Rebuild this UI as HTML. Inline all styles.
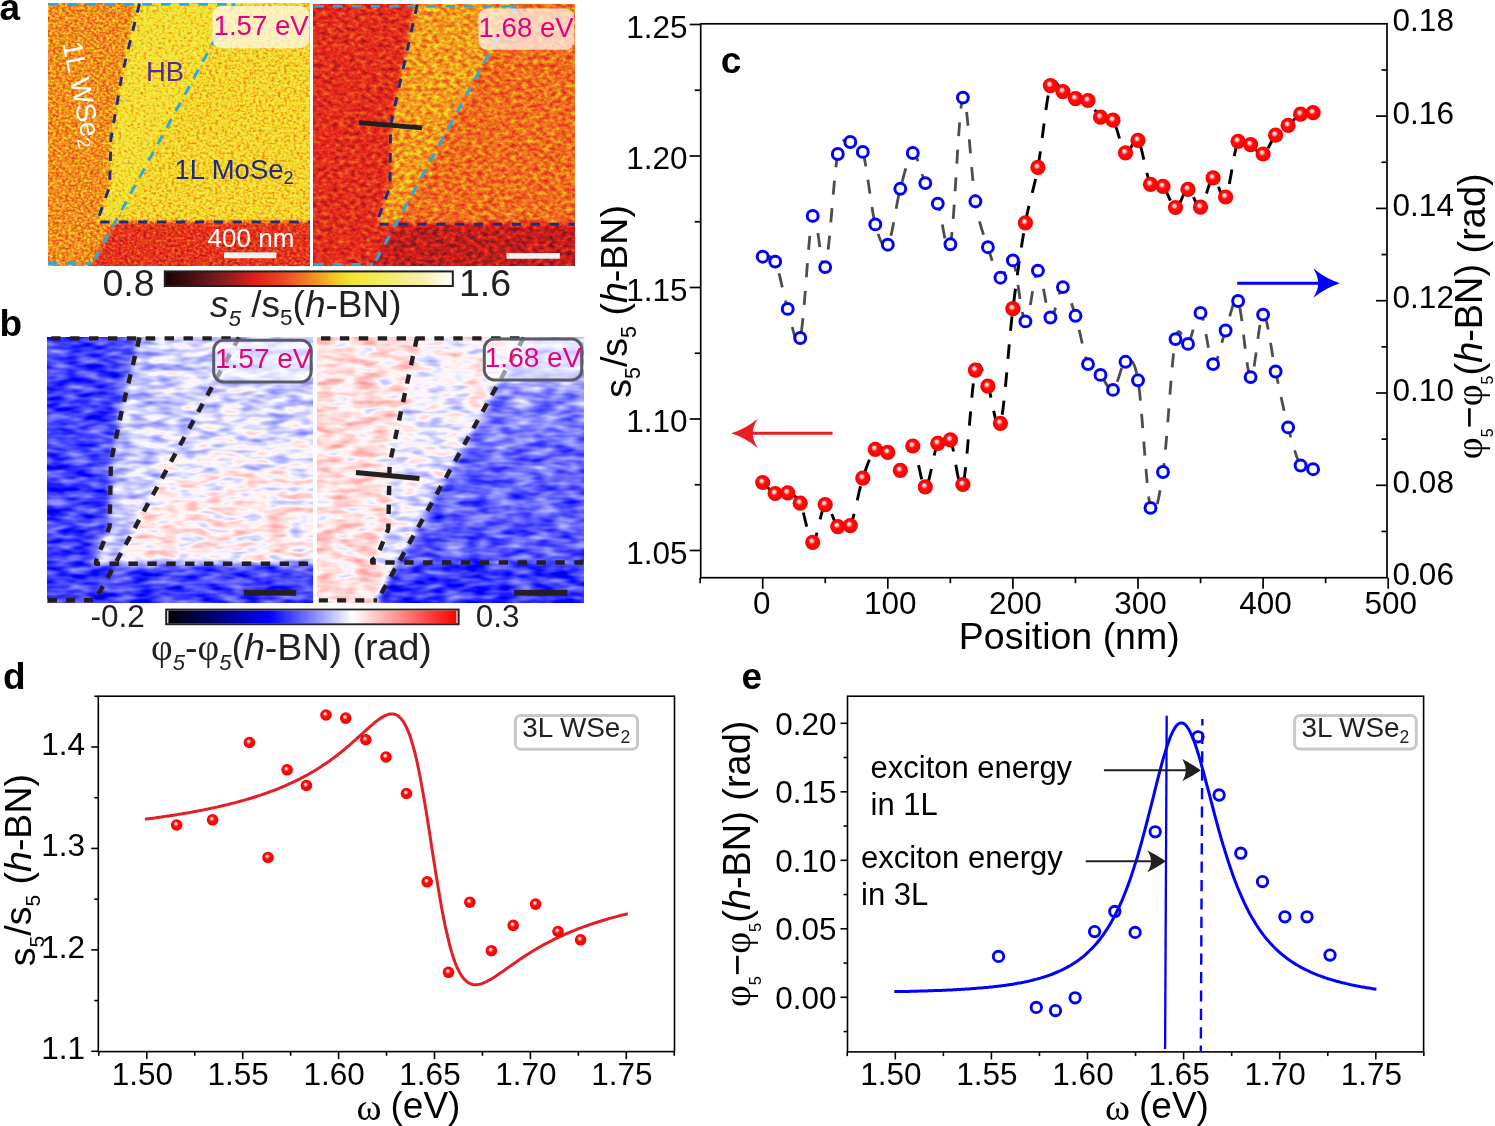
<!DOCTYPE html><html><head><meta charset="utf-8"><style>html,body{margin:0;padding:0;background:#fff;overflow:hidden}svg{display:block;will-change:transform}text{font-family:"Liberation Sans",sans-serif}</style></head><body>
<svg width="1495" height="1126" viewBox="0 0 1495 1126">
<defs>
<radialGradient id="sph" cx="0.5" cy="0.5" r="0.5" fx="0.40" fy="0.36">
 <stop offset="0" stop-color="#ffffff"/>
 <stop offset="0.1" stop-color="#fff4f4"/>
 <stop offset="0.26" stop-color="#ff9090"/>
 <stop offset="0.42" stop-color="#ff1010"/>
 <stop offset="0.85" stop-color="#ff0000"/>
 <stop offset="1" stop-color="#f20000"/>
</radialGradient>
<linearGradient id="cbhot" x1="0" x2="1" y1="0" y2="0"><stop offset="0" stop-color="#180406"/><stop offset="0.19" stop-color="#7a1c20"/><stop offset="0.31" stop-color="#e21c1c"/><stop offset="0.4" stop-color="#ea4420"/><stop offset="0.47" stop-color="#ef7020"/><stop offset="0.54" stop-color="#f2a020"/><stop offset="0.59" stop-color="#f4c820"/><stop offset="0.65" stop-color="#f2e632"/><stop offset="0.76" stop-color="#f2ec60"/><stop offset="0.9" stop-color="#f6f0b0"/><stop offset="1.0" stop-color="#ffffff"/></linearGradient>
<linearGradient id="cbbwr" x1="0" x2="1" y1="0" y2="0"><stop offset="0" stop-color="#000000"/><stop offset="0.35" stop-color="#0000ff"/><stop offset="0.64" stop-color="#ffffff"/><stop offset="1.0" stop-color="#ff0000"/></linearGradient>
<filter id="blur3" x="-5%" y="-5%" width="110%" height="110%"><feGaussianBlur stdDeviation="3"/></filter>
<filter id="blur2" x="-5%" y="-5%" width="110%" height="110%"><feGaussianBlur stdDeviation="2"/></filter>
</defs>
<filter id="fAL" x="48" y="3.3" width="261.8" height="262.3" filterUnits="userSpaceOnUse" color-interpolation-filters="sRGB"><feGaussianBlur in="SourceGraphic" stdDeviation="2.0" result="base"/><feTurbulence type="fractalNoise" baseFrequency="0.32 0.4" numOctaves="2" seed="3" result="n"/><feColorMatrix in="n" type="matrix" values="1 0 0 0 0 1 0 0 0 0 1 0 0 0 0 0 0 0 0 1" result="ng"/><feComposite in="base" in2="ng" operator="arithmetic" k1="0" k2="1" k3="0.42" k4="-0.2100" result="sum"/><feComponentTransfer in="sum"><feFuncR type="table" tableValues="0.094 0.145 0.195 0.246 0.296 0.347 0.398 0.448 0.512 0.597 0.682 0.767 0.852 0.892 0.900 0.909 0.918 0.925 0.932 0.938 0.942 0.946 0.951 0.955 0.956 0.952 0.949 0.949 0.949 0.949 0.949 0.951 0.954 0.956 0.959 0.962 0.965 0.974 0.982 0.991 1.000"/><feFuncG type="table" tableValues="0.016 0.028 0.040 0.053 0.065 0.078 0.090 0.102 0.110 0.110 0.110 0.110 0.110 0.136 0.180 0.223 0.267 0.328 0.390 0.453 0.520 0.587 0.659 0.737 0.804 0.853 0.902 0.907 0.913 0.918 0.923 0.927 0.930 0.933 0.936 0.938 0.941 0.956 0.971 0.985 1.000"/><feFuncB type="table" tableValues="0.024 0.037 0.050 0.064 0.077 0.091 0.104 0.117 0.124 0.121 0.118 0.114 0.111 0.112 0.117 0.121 0.125 0.125 0.125 0.125 0.125 0.125 0.125 0.125 0.137 0.167 0.196 0.237 0.278 0.319 0.360 0.410 0.466 0.522 0.578 0.634 0.690 0.768 0.845 0.923 1.000"/><feFuncA type="identity"/></feComponentTransfer></filter>
<g filter="url(#fAL)">
<rect x="36" y="-8.7" width="285.8" height="286.3" fill="rgb(131,131,131)"/>
<polygon points="139.5,-10.0 320.0,-10.0 320.0,222.0 97.2,222.0 97.2,221.5 109.6,186.5 110.9,139.3 122.0,74.6 139.5,-10.0" fill="rgb(158,158,158)"/>
<polygon points="139.5,-10.0 241.9,-10.0 115.2,222.0 97.2,222.0 97.2,221.5 109.6,186.5 110.9,139.3 122.0,74.6" fill="rgb(164,164,164)"/>
<polygon points="115.2,222.0 320.0,222.0 320.0,280.0 83.6,280.0" fill="rgb(93,93,93)"/>
</g>
<filter id="fAR" x="313.9" y="4.8" width="261.1" height="261.1" filterUnits="userSpaceOnUse" color-interpolation-filters="sRGB"><feGaussianBlur in="SourceGraphic" stdDeviation="2.0" result="base"/><feTurbulence type="fractalNoise" baseFrequency="0.18 0.25" numOctaves="2" seed="7" result="n"/><feColorMatrix in="n" type="matrix" values="1 0 0 0 0 1 0 0 0 0 1 0 0 0 0 0 0 0 0 1" result="ng"/><feComposite in="base" in2="ng" operator="arithmetic" k1="0" k2="1" k3="0.4" k4="-0.2000" result="sum"/><feComponentTransfer in="sum"><feFuncR type="table" tableValues="0.094 0.145 0.195 0.246 0.296 0.347 0.398 0.448 0.512 0.597 0.682 0.767 0.852 0.892 0.900 0.909 0.918 0.925 0.932 0.938 0.942 0.946 0.951 0.955 0.956 0.952 0.949 0.949 0.949 0.949 0.949 0.951 0.954 0.956 0.959 0.962 0.965 0.974 0.982 0.991 1.000"/><feFuncG type="table" tableValues="0.016 0.028 0.040 0.053 0.065 0.078 0.090 0.102 0.110 0.110 0.110 0.110 0.110 0.136 0.180 0.223 0.267 0.328 0.390 0.453 0.520 0.587 0.659 0.737 0.804 0.853 0.902 0.907 0.913 0.918 0.923 0.927 0.930 0.933 0.936 0.938 0.941 0.956 0.971 0.985 1.000"/><feFuncB type="table" tableValues="0.024 0.037 0.050 0.064 0.077 0.091 0.104 0.117 0.124 0.121 0.118 0.114 0.111 0.112 0.117 0.121 0.125 0.125 0.125 0.125 0.125 0.125 0.125 0.125 0.137 0.167 0.196 0.237 0.278 0.319 0.360 0.410 0.466 0.522 0.578 0.634 0.690 0.768 0.845 0.923 1.000"/><feFuncA type="identity"/></feComponentTransfer></filter>
<g filter="url(#fAR)">
<rect x="301.9" y="-7.2" width="285.1" height="285.1" fill="rgb(89,89,89)"/>
<polygon points="417.2,-10.0 523.8,-10.0 395.7,224.3 377.3,224.3 377.3,221.2 390.0,186.5 390.6,125.2" fill="rgb(136,136,136)"/>
<polygon points="523.8,-10.0 590.0,-10.0 590.0,224.3 395.7,224.3" fill="rgb(119,119,119)"/>
<polygon points="395.7,224.3 590.0,224.3 590.0,280.0 365.3,280.0" fill="rgb(71,71,71)"/>
</g>
<linearGradient id="gBLm" x1="0" y1="0" x2="0" y2="1"><stop offset="0" stop-color="rgb(147,147,147)"/><stop offset="0.3" stop-color="rgb(150,150,150)"/><stop offset="0.5" stop-color="rgb(157,157,157)"/><stop offset="0.68" stop-color="rgb(167,167,167)"/><stop offset="0.85" stop-color="rgb(171,171,171)"/><stop offset="1" stop-color="rgb(166,166,166)"/></linearGradient>
<filter id="fBL" x="47.6" y="337.0" width="265.2" height="265.8" filterUnits="userSpaceOnUse" color-interpolation-filters="sRGB"><feGaussianBlur in="SourceGraphic" stdDeviation="3.0" result="base"/><feTurbulence type="fractalNoise" baseFrequency="0.045 0.14" numOctaves="2" seed="11" result="n"/><feColorMatrix in="n" type="matrix" values="1 0 0 0 0 1 0 0 0 0 1 0 0 0 0 0 0 0 0 1" result="ng"/><feComposite in="base" in2="ng" operator="arithmetic" k1="0" k2="1" k3="0.3" k4="-0.1500" result="sum"/><feComponentTransfer in="sum"><feFuncR type="table" tableValues="0.000 0.000 0.000 0.000 0.000 0.000 0.000 0.000 0.000 0.000 0.000 0.000 0.000 0.000 0.000 0.086 0.172 0.259 0.345 0.431 0.517 0.603 0.690 0.776 0.862 0.948 1.000 1.000 1.000 1.000 1.000 1.000 1.000 1.000 1.000 1.000 1.000 1.000 1.000 1.000 1.000"/><feFuncG type="table" tableValues="0.000 0.000 0.000 0.000 0.000 0.000 0.000 0.000 0.000 0.000 0.000 0.000 0.000 0.000 0.000 0.086 0.172 0.259 0.345 0.431 0.517 0.603 0.690 0.776 0.862 0.948 0.972 0.903 0.833 0.764 0.694 0.625 0.556 0.486 0.417 0.347 0.278 0.208 0.139 0.069 0.000"/><feFuncB type="table" tableValues="0.000 0.071 0.143 0.214 0.286 0.357 0.429 0.500 0.571 0.643 0.714 0.786 0.857 0.929 1.000 1.000 1.000 1.000 1.000 1.000 1.000 1.000 1.000 1.000 1.000 1.000 0.972 0.903 0.833 0.764 0.694 0.625 0.556 0.486 0.417 0.347 0.278 0.208 0.139 0.069 0.000"/><feFuncA type="identity"/></feComponentTransfer></filter>
<g filter="url(#fBL)">
<rect x="35.6" y="325.0" width="289.2" height="289.8" fill="rgb(108,108,108)"/>
<polygon points="139.5,327.0 244.7,327.0 115.1,563.8 96.0,563.8 96.0,561.3 109.6,526.5 110.9,461.8 122.0,409.6" fill="rgb(150,150,150)"/>
<polygon points="244.7,327.0 330.0,327.0 330.0,563.8 115.1,563.8" fill="url(#gBLm)"/>
</g>
<linearGradient id="gBRm" x1="0" y1="0" x2="0" y2="1"><stop offset="0" stop-color="rgb(153,153,153)"/><stop offset="0.25" stop-color="rgb(135,135,135)"/><stop offset="0.55" stop-color="rgb(120,120,120)"/><stop offset="1" stop-color="rgb(115,115,115)"/></linearGradient>
<linearGradient id="gBRh" x1="0" y1="0" x2="0" y2="1"><stop offset="0" stop-color="rgb(167,167,167)"/><stop offset="0.5" stop-color="rgb(158,158,158)"/><stop offset="1" stop-color="rgb(153,153,153)"/></linearGradient>
<filter id="fBR" x="317.4" y="337.0" width="265.7" height="265.8" filterUnits="userSpaceOnUse" color-interpolation-filters="sRGB"><feGaussianBlur in="SourceGraphic" stdDeviation="3.0" result="base"/><feTurbulence type="fractalNoise" baseFrequency="0.045 0.14" numOctaves="2" seed="13" result="n"/><feColorMatrix in="n" type="matrix" values="1 0 0 0 0 1 0 0 0 0 1 0 0 0 0 0 0 0 0 1" result="ng"/><feComposite in="base" in2="ng" operator="arithmetic" k1="0" k2="1" k3="0.3" k4="-0.1500" result="sum"/><feComponentTransfer in="sum"><feFuncR type="table" tableValues="0.000 0.000 0.000 0.000 0.000 0.000 0.000 0.000 0.000 0.000 0.000 0.000 0.000 0.000 0.000 0.086 0.172 0.259 0.345 0.431 0.517 0.603 0.690 0.776 0.862 0.948 1.000 1.000 1.000 1.000 1.000 1.000 1.000 1.000 1.000 1.000 1.000 1.000 1.000 1.000 1.000"/><feFuncG type="table" tableValues="0.000 0.000 0.000 0.000 0.000 0.000 0.000 0.000 0.000 0.000 0.000 0.000 0.000 0.000 0.000 0.086 0.172 0.259 0.345 0.431 0.517 0.603 0.690 0.776 0.862 0.948 0.972 0.903 0.833 0.764 0.694 0.625 0.556 0.486 0.417 0.347 0.278 0.208 0.139 0.069 0.000"/><feFuncB type="table" tableValues="0.000 0.071 0.143 0.214 0.286 0.357 0.429 0.500 0.571 0.643 0.714 0.786 0.857 0.929 1.000 1.000 1.000 1.000 1.000 1.000 1.000 1.000 1.000 1.000 1.000 1.000 0.972 0.903 0.833 0.764 0.694 0.625 0.556 0.486 0.417 0.347 0.278 0.208 0.139 0.069 0.000"/><feFuncA type="identity"/></feComponentTransfer></filter>
<g filter="url(#fBR)">
<rect x="305.4" y="325.0" width="289.7" height="289.8" fill="rgb(175,175,175)"/>
<polygon points="417.0,327.0 529.7,327.0 398.6,562.5 372.2,562.5 372.2,560.0 377.1,556.3 388.3,529.0 389.6,464.3" fill="url(#gBRh)"/>
<polygon points="529.7,327.0 600.0,327.0 600.0,562.5 398.6,562.5" fill="url(#gBRm)"/>
<polygon points="398.6,562.5 600.0,562.5 600.0,615.0 369.4,615.0" fill="rgb(105,105,105)"/>
</g>
<path d="M48.7,4.4 L234.5,4.4" fill="none" stroke="#27a9e1" stroke-width="2.6" stroke-dasharray="9.6 9.1" stroke-linecap="butt" stroke-linejoin="round"/>
<path d="M234.5,3.5 L91.8,264.9" fill="none" stroke="#27a9e1" stroke-width="2.9" stroke-dasharray="9.8 9.0" stroke-linecap="butt" stroke-linejoin="round"/>
<path d="M48.0,263.4 L91.8,263.4" fill="none" stroke="#27a9e1" stroke-width="2.6" stroke-dasharray="9.6 9.1" stroke-linecap="butt" stroke-linejoin="round"/>
<path d="M139.5,3.5 L122.0,74.6 L110.9,139.3 L109.6,186.5 L97.2,221.5 L97.2,222.0 L309.8,222.0" fill="none" stroke="#1e2b80" stroke-width="2.9" stroke-dasharray="9.3 9.6" stroke-linecap="butt" stroke-linejoin="round"/>
<path d="M314.5,6.2 L515.7,6.2" fill="none" stroke="#27a9e1" stroke-width="2.6" stroke-dasharray="9.6 9.1" stroke-linecap="butt" stroke-linejoin="round"/>
<path d="M515.7,4.8 L373.0,265.9" fill="none" stroke="#27a9e1" stroke-width="2.9" stroke-dasharray="9.8 9.0" stroke-linecap="butt" stroke-linejoin="round"/>
<path d="M313.9,264.4 L373.0,264.4" fill="none" stroke="#27a9e1" stroke-width="2.6" stroke-dasharray="9.6 9.1" stroke-linecap="butt" stroke-linejoin="round"/>
<path d="M417.2,4.8 L390.6,125.2 L390.0,186.5 L377.3,221.2 L377.3,224.3 L575.0,224.3" fill="none" stroke="#1e2b80" stroke-width="2.9" stroke-dasharray="9.3 9.6" stroke-linecap="butt" stroke-linejoin="round"/>
<line x1="359.2" y1="122.6" x2="422" y2="127.9" stroke="#231f20" stroke-width="4.8"/>
<path d="M51.2,338.4 L239.0,338.4" fill="none" stroke="#231f20" stroke-width="4.4" stroke-dasharray="9.4 9.5" stroke-linecap="butt" stroke-linejoin="round"/>
<path d="M239.0,337.5 L94.7,601.1" fill="none" stroke="#231f20" stroke-width="4.4" stroke-dasharray="9.4 9.5" stroke-linecap="butt" stroke-linejoin="round"/>
<path d="M48.0,600.3 L95.5,600.3" fill="none" stroke="#231f20" stroke-width="4.4" stroke-dasharray="9 9" stroke-linecap="butt" stroke-linejoin="round"/>
<path d="M139.5,337.5 L122.0,409.6 L110.9,461.8 L109.6,526.5 L96.0,561.3 L96.0,563.8 L312.8,563.8" fill="none" stroke="#231f20" stroke-width="4.4" stroke-dasharray="9.4 9.5" stroke-linecap="butt" stroke-linejoin="round"/>
<path d="M321.0,338.4 L523.9,338.4" fill="none" stroke="#231f20" stroke-width="4.4" stroke-dasharray="9.4 9.5" stroke-linecap="butt" stroke-linejoin="round"/>
<path d="M523.9,337.5 L377.1,601.1" fill="none" stroke="#231f20" stroke-width="4.4" stroke-dasharray="9.4 9.5" stroke-linecap="butt" stroke-linejoin="round"/>
<path d="M318.9,600.4 L377.1,600.4" fill="none" stroke="#231f20" stroke-width="4.4" stroke-dasharray="9 9.2" stroke-linecap="butt" stroke-linejoin="round"/>
<path d="M417.0,337.5 L389.6,464.3 L388.3,529.0 L377.1,556.3 L372.2,560.0 L372.2,562.5 L583.1,562.5" fill="none" stroke="#231f20" stroke-width="4.4" stroke-dasharray="9.4 9.5" stroke-linecap="butt" stroke-linejoin="round"/>
<line x1="356" y1="472.5" x2="419.4" y2="478.5" stroke="#231f20" stroke-width="5"/>
<rect x="212.4" y="6.0" width="96.70000000000002" height="42.2" rx="9" fill="rgba(255,248,228,0.78)"/>
<text x="213.6" y="34.7" font-size="27.6" fill="#e4007f">1.57 eV</text>
<rect x="478.4" y="8.4" width="95.89999999999998" height="41.4" rx="9" fill="rgba(255,238,228,0.78)"/>
<text x="478.6" y="36.9" font-size="27.6" fill="#e4007f">1.68 eV</text>
<rect x="213.7" y="340.2" width="97.40000000000003" height="41.80000000000001" rx="10" fill="rgba(255,255,255,0.55)" stroke="#5a5a68" stroke-width="3"/>
<text x="215.0" y="368.3" font-size="28" fill="#e4007f">1.57 eV</text>
<rect x="484.3" y="339.0" width="97.40000000000003" height="40.89999999999998" rx="10" fill="rgba(255,255,255,0.55)" stroke="#5a5a68" stroke-width="3"/>
<text x="484.8" y="366.9" font-size="28" fill="#e4007f">1.68 eV</text>
<text x="146.0" y="80.8" font-size="27.5" fill="#5a2d8c">HB</text>
<text x="174.5" y="179" font-size="27.5" fill="#1e2b80">1L MoSe<tspan font-size="18" dy="5">2</tspan></text>
<text x="0" y="0" font-size="27.5" fill="#ffffff" transform="translate(62.5,43.5) rotate(78.5)">1L WSe<tspan font-size="18" dy="5">2</tspan></text>
<text x="207.6" y="247.3" font-size="26" fill="#ffffff">400 nm</text>
<rect x="224" y="252.4" width="52.3" height="5.8" fill="#f2f2f2"/>
<rect x="506.5" y="253.1" width="53.3" height="5.6" fill="#f2f2f2"/>
<rect x="243.9" y="589.9" width="52.3" height="5.8" fill="#231f20"/>
<rect x="513.9" y="589.9" width="53.5" height="5.8" fill="#231f20"/>
<rect x="164.8" y="271.4" width="288" height="14.6" fill="url(#cbhot)" stroke="#231f20" stroke-width="2"/>
<rect x="166.2" y="609.6" width="292.4" height="14.6" fill="#fff" stroke="#231f20" stroke-width="2"/>
<rect x="168.4" y="610.6" width="288.0" height="12.6" fill="url(#cbbwr)"/>
<text x="102.5" y="296.4" font-size="37.5" fill="#231f20">0.8</text>
<text x="459.0" y="296.4" font-size="37.5" fill="#231f20">1.6</text>
<text x="210.0" y="317" font-size="37" fill="#231f20"><tspan font-style="italic">s</tspan><tspan font-size="22.5" dy="9" font-style="italic">5</tspan><tspan dy="-9"> /s</tspan><tspan font-size="22.5" dy="7.5">5</tspan><tspan dy="-7.5">(</tspan><tspan font-style="italic">h</tspan>-BN)</text>
<text x="90.5" y="626.6" font-size="31.5" fill="#231f20">-0.2</text>
<text x="475.8" y="626.6" font-size="31.5" fill="#231f20">0.3</text>
<text x="151" y="660" font-size="37.6" fill="#231f20"><tspan style="font-family:'Liberation Serif',serif">φ</tspan><tspan font-size="22" dy="10" font-style="italic">5</tspan><tspan dy="-10">-</tspan><tspan style="font-family:'Liberation Serif',serif">φ</tspan><tspan font-size="22" dy="10" font-style="italic">5</tspan><tspan dy="-10">(</tspan><tspan font-style="italic">h</tspan>-BN) (rad)</text>
<text x="-0.5" y="19.6" font-size="37" fill="#000" font-weight="bold">a</text>
<text x="-0.5" y="336.0" font-size="37" fill="#000" font-weight="bold">b</text>
<text x="720.8" y="73.2" font-size="37" fill="#000" font-weight="bold">c</text>
<text x="3.0" y="688.6" font-size="37" fill="#000" font-weight="bold">d</text>
<text x="741.5" y="689.2" font-size="37" fill="#000" font-weight="bold">e</text>
<rect x="700.7" y="23.8" width="686.3" height="553.9" fill="none" stroke="#000" stroke-width="1.7"/>
<line x1="689.70" y1="550.50" x2="700.70" y2="550.50" stroke="#000" stroke-width="1.7"/>
<text x="687.6" y="563.9" font-size="31.5" fill="#000" text-anchor="end">1.05</text>
<line x1="689.70" y1="419.00" x2="700.70" y2="419.00" stroke="#000" stroke-width="1.7"/>
<text x="687.6" y="432.4" font-size="31.5" fill="#000" text-anchor="end">1.10</text>
<line x1="689.70" y1="287.50" x2="700.70" y2="287.50" stroke="#000" stroke-width="1.7"/>
<text x="687.6" y="300.9" font-size="31.5" fill="#000" text-anchor="end">1.15</text>
<line x1="689.70" y1="156.00" x2="700.70" y2="156.00" stroke="#000" stroke-width="1.7"/>
<text x="687.6" y="169.4" font-size="31.5" fill="#000" text-anchor="end">1.20</text>
<line x1="689.70" y1="24.50" x2="700.70" y2="24.50" stroke="#000" stroke-width="1.7"/>
<text x="687.6" y="37.9" font-size="31.5" fill="#000" text-anchor="end">1.25</text>
<line x1="694.70" y1="484.75" x2="700.70" y2="484.75" stroke="#000" stroke-width="1.7"/>
<line x1="694.70" y1="353.25" x2="700.70" y2="353.25" stroke="#000" stroke-width="1.7"/>
<line x1="694.70" y1="221.75" x2="700.70" y2="221.75" stroke="#000" stroke-width="1.7"/>
<line x1="694.70" y1="90.25" x2="700.70" y2="90.25" stroke="#000" stroke-width="1.7"/>
<text x="1392.6" y="585.2" font-size="31.5" fill="#000">0.06</text>
<line x1="1376.00" y1="485.30" x2="1387.00" y2="485.30" stroke="#000" stroke-width="1.7"/>
<text x="1392.6" y="492.9" font-size="31.5" fill="#000">0.08</text>
<line x1="1376.00" y1="393.00" x2="1387.00" y2="393.00" stroke="#000" stroke-width="1.7"/>
<text x="1392.6" y="400.6" font-size="31.5" fill="#000">0.10</text>
<line x1="1376.00" y1="300.70" x2="1387.00" y2="300.70" stroke="#000" stroke-width="1.7"/>
<text x="1392.6" y="308.3" font-size="31.5" fill="#000">0.12</text>
<line x1="1376.00" y1="208.40" x2="1387.00" y2="208.40" stroke="#000" stroke-width="1.7"/>
<text x="1392.6" y="216.0" font-size="31.5" fill="#000">0.14</text>
<line x1="1376.00" y1="116.10" x2="1387.00" y2="116.10" stroke="#000" stroke-width="1.7"/>
<text x="1392.6" y="123.7" font-size="31.5" fill="#000">0.16</text>
<text x="1392.6" y="31.4" font-size="31.5" fill="#000">0.18</text>
<line x1="1381.50" y1="531.45" x2="1387.00" y2="531.45" stroke="#000" stroke-width="1.7"/>
<line x1="1381.50" y1="439.15" x2="1387.00" y2="439.15" stroke="#000" stroke-width="1.7"/>
<line x1="1381.50" y1="346.85" x2="1387.00" y2="346.85" stroke="#000" stroke-width="1.7"/>
<line x1="1381.50" y1="254.55" x2="1387.00" y2="254.55" stroke="#000" stroke-width="1.7"/>
<line x1="1381.50" y1="162.25" x2="1387.00" y2="162.25" stroke="#000" stroke-width="1.7"/>
<line x1="1381.50" y1="69.95" x2="1387.00" y2="69.95" stroke="#000" stroke-width="1.7"/>
<line x1="762.70" y1="577.70" x2="762.70" y2="588.70" stroke="#000" stroke-width="1.7"/>
<text x="761.7" y="614.2" font-size="31.5" fill="#000" text-anchor="middle">0</text>
<line x1="887.80" y1="577.70" x2="887.80" y2="588.70" stroke="#000" stroke-width="1.7"/>
<text x="890.3" y="614.2" font-size="31.5" fill="#000" text-anchor="middle">100</text>
<line x1="1012.90" y1="577.70" x2="1012.90" y2="588.70" stroke="#000" stroke-width="1.7"/>
<text x="1015.4" y="614.2" font-size="31.5" fill="#000" text-anchor="middle">200</text>
<line x1="1138.00" y1="577.70" x2="1138.00" y2="588.70" stroke="#000" stroke-width="1.7"/>
<text x="1140.5" y="614.2" font-size="31.5" fill="#000" text-anchor="middle">300</text>
<line x1="1263.10" y1="577.70" x2="1263.10" y2="588.70" stroke="#000" stroke-width="1.7"/>
<text x="1265.6" y="614.2" font-size="31.5" fill="#000" text-anchor="middle">400</text>
<line x1="1388.20" y1="577.70" x2="1388.20" y2="588.70" stroke="#000" stroke-width="1.7"/>
<text x="1390.7" y="614.2" font-size="31.5" fill="#000" text-anchor="middle">500</text>
<line x1="700.15" y1="577.70" x2="700.15" y2="583.20" stroke="#000" stroke-width="1.7"/>
<line x1="825.25" y1="577.70" x2="825.25" y2="583.20" stroke="#000" stroke-width="1.7"/>
<line x1="950.35" y1="577.70" x2="950.35" y2="583.20" stroke="#000" stroke-width="1.7"/>
<line x1="1075.45" y1="577.70" x2="1075.45" y2="583.20" stroke="#000" stroke-width="1.7"/>
<line x1="1200.55" y1="577.70" x2="1200.55" y2="583.20" stroke="#000" stroke-width="1.7"/>
<line x1="1325.65" y1="577.70" x2="1325.65" y2="583.20" stroke="#000" stroke-width="1.7"/>
<text x="958.8" y="649.1" font-size="37.5" fill="#000">Position (nm)</text>
<path d="M762.7,256.7 C764.8,257.5 771.0,252.9 775.2,261.6 C779.4,270.3 783.6,296.2 787.7,308.9 C791.9,321.6 796.1,353.5 800.2,338.0 C804.4,322.5 808.6,227.7 812.7,215.9 C816.9,204.1 821.1,277.4 825.2,267.1 C829.4,256.8 833.6,174.8 837.8,154.0 C841.9,133.2 846.1,142.3 850.3,142.0 C854.4,141.7 858.6,138.2 862.8,151.9 C867.0,165.6 871.1,208.9 875.3,224.4 C879.5,239.9 883.6,250.6 887.8,244.7 C892.0,238.8 896.1,204.1 900.3,188.8 C904.5,173.5 908.7,153.9 912.8,153.0 C917.0,152.1 921.2,174.7 925.3,183.1 C929.5,191.5 933.7,193.4 937.8,203.6 C942.0,213.8 946.2,262.0 950.4,244.3 C954.5,226.6 958.7,104.8 962.9,97.6 C967.0,90.4 971.2,176.4 975.4,201.3 C979.5,226.2 983.7,234.5 987.9,247.2 C992.0,259.9 996.2,275.5 1000.4,277.7 C1004.6,279.9 1008.7,253.1 1012.9,260.4 C1017.1,267.7 1021.2,319.7 1025.4,321.4 C1029.6,323.1 1033.8,271.2 1037.9,270.6 C1042.1,270.0 1046.3,314.8 1050.4,317.5 C1054.6,320.2 1058.8,287.4 1062.9,287.1 C1067.1,286.8 1071.3,303.0 1075.5,315.8 C1079.6,328.6 1083.8,354.2 1088.0,364.1 C1092.1,374.0 1096.3,370.6 1100.5,374.9 C1104.6,379.2 1108.8,392.1 1113.0,389.9 C1117.2,387.7 1121.3,363.4 1125.5,361.8 C1129.7,360.2 1133.8,356.0 1138.0,380.3 C1142.2,404.6 1146.3,492.6 1150.5,507.9 C1154.7,523.2 1158.8,500.1 1163.0,472.0 C1167.2,443.9 1171.4,360.5 1175.5,339.1 C1179.7,317.8 1183.9,348.3 1188.0,343.9 C1192.2,339.5 1196.4,309.5 1200.5,312.9 C1204.7,316.3 1208.9,361.2 1213.1,364.1 C1217.2,367.0 1221.4,341.0 1225.6,330.5 C1229.7,320.0 1233.9,293.2 1238.1,301.0 C1242.2,308.8 1246.4,374.8 1250.6,377.1 C1254.8,379.4 1258.9,315.5 1263.1,314.6 C1267.3,313.7 1271.4,352.7 1275.6,371.5 C1279.8,390.3 1283.9,411.7 1288.1,427.4 C1292.3,443.1 1296.5,458.5 1300.6,465.5 C1304.8,472.5 1311.1,468.6 1313.1,469.2" fill="none" stroke="#4d4d4d" stroke-width="2.8" stroke-dasharray="14 13.5"/>
<path d="M762.7,482.5 C764.8,484.3 771.0,491.8 775.2,493.5 C779.4,495.2 783.6,491.3 787.7,492.9 C791.9,494.5 796.1,495.0 800.2,503.2 C804.4,511.4 808.6,542.1 812.7,542.3 C816.9,542.5 821.1,507.2 825.2,504.6 C829.4,502.0 833.6,523.1 837.8,526.6 C841.9,530.1 846.1,533.7 850.3,525.6 C854.4,517.5 858.6,490.8 862.8,478.1 C867.0,465.4 871.1,453.7 875.3,449.4 C879.5,445.1 883.6,448.9 887.8,452.4 C892.0,455.9 896.1,471.5 900.3,470.4 C904.5,469.3 908.7,443.2 912.8,446.0 C917.0,448.8 921.2,487.3 925.3,486.9 C929.5,486.5 933.7,451.2 937.8,443.4 C942.0,435.6 946.2,433.0 950.4,439.9 C954.5,446.8 958.7,496.1 962.9,484.5 C967.0,472.9 971.2,386.5 975.4,370.1 C979.5,353.7 983.7,377.3 987.9,386.2 C992.0,395.1 996.2,436.2 1000.4,423.3 C1004.6,410.4 1008.7,342.1 1012.9,308.7 C1017.1,275.3 1021.2,246.4 1025.4,222.9 C1029.6,199.4 1033.8,190.3 1037.9,167.4 C1042.1,144.5 1046.3,98.2 1050.4,85.6 C1054.6,73.0 1058.8,89.4 1062.9,91.6 C1067.1,93.8 1071.3,97.1 1075.5,98.6 C1079.6,100.1 1083.8,97.4 1088.0,100.5 C1092.1,103.6 1096.3,113.9 1100.5,117.2 C1104.6,120.5 1108.8,114.3 1113.0,120.2 C1117.2,126.1 1121.3,149.5 1125.5,152.8 C1129.7,156.2 1133.8,135.0 1138.0,140.3 C1142.2,145.6 1146.3,176.7 1150.5,184.4 C1154.7,192.1 1158.8,182.6 1163.0,186.4 C1167.2,190.2 1171.4,207.0 1175.5,207.5 C1179.7,208.0 1183.9,189.4 1188.0,189.3 C1192.2,189.2 1196.4,209.1 1200.5,207.2 C1204.7,205.3 1208.9,179.6 1213.1,177.9 C1217.2,176.2 1221.4,203.1 1225.6,197.0 C1229.7,190.9 1233.9,150.0 1238.1,141.3 C1242.2,132.6 1246.4,142.5 1250.6,144.6 C1254.8,146.7 1258.9,155.6 1263.1,154.0 C1267.3,152.4 1271.4,139.9 1275.6,135.1 C1279.8,130.3 1283.9,128.9 1288.1,125.4 C1292.3,121.9 1296.5,116.3 1300.6,114.2 C1304.8,112.1 1311.1,113.0 1313.1,112.7" fill="none" stroke="#000" stroke-width="2.9" stroke-dasharray="14.5 13.5"/>
<circle cx="762.7" cy="256.7" r="5.45" fill="#fff" stroke="#0000ff" stroke-width="3"/>
<circle cx="775.2" cy="261.6" r="5.45" fill="#fff" stroke="#0000ff" stroke-width="3"/>
<circle cx="787.7" cy="308.9" r="5.45" fill="#fff" stroke="#0000ff" stroke-width="3"/>
<circle cx="800.2" cy="338.0" r="5.45" fill="#fff" stroke="#0000ff" stroke-width="3"/>
<circle cx="812.7" cy="215.9" r="5.45" fill="#fff" stroke="#0000ff" stroke-width="3"/>
<circle cx="825.2" cy="267.1" r="5.45" fill="#fff" stroke="#0000ff" stroke-width="3"/>
<circle cx="837.8" cy="154.0" r="5.45" fill="#fff" stroke="#0000ff" stroke-width="3"/>
<circle cx="850.3" cy="142.0" r="5.45" fill="#fff" stroke="#0000ff" stroke-width="3"/>
<circle cx="862.8" cy="151.9" r="5.45" fill="#fff" stroke="#0000ff" stroke-width="3"/>
<circle cx="875.3" cy="224.4" r="5.45" fill="#fff" stroke="#0000ff" stroke-width="3"/>
<circle cx="887.8" cy="244.7" r="5.45" fill="#fff" stroke="#0000ff" stroke-width="3"/>
<circle cx="900.3" cy="188.8" r="5.45" fill="#fff" stroke="#0000ff" stroke-width="3"/>
<circle cx="912.8" cy="153.0" r="5.45" fill="#fff" stroke="#0000ff" stroke-width="3"/>
<circle cx="925.3" cy="183.1" r="5.45" fill="#fff" stroke="#0000ff" stroke-width="3"/>
<circle cx="937.8" cy="203.6" r="5.45" fill="#fff" stroke="#0000ff" stroke-width="3"/>
<circle cx="950.4" cy="244.3" r="5.45" fill="#fff" stroke="#0000ff" stroke-width="3"/>
<circle cx="962.9" cy="97.6" r="5.45" fill="#fff" stroke="#0000ff" stroke-width="3"/>
<circle cx="975.4" cy="201.3" r="5.45" fill="#fff" stroke="#0000ff" stroke-width="3"/>
<circle cx="987.9" cy="247.2" r="5.45" fill="#fff" stroke="#0000ff" stroke-width="3"/>
<circle cx="1000.4" cy="277.7" r="5.45" fill="#fff" stroke="#0000ff" stroke-width="3"/>
<circle cx="1012.9" cy="260.4" r="5.45" fill="#fff" stroke="#0000ff" stroke-width="3"/>
<circle cx="1025.4" cy="321.4" r="5.45" fill="#fff" stroke="#0000ff" stroke-width="3"/>
<circle cx="1037.9" cy="270.6" r="5.45" fill="#fff" stroke="#0000ff" stroke-width="3"/>
<circle cx="1050.4" cy="317.5" r="5.45" fill="#fff" stroke="#0000ff" stroke-width="3"/>
<circle cx="1062.9" cy="287.1" r="5.45" fill="#fff" stroke="#0000ff" stroke-width="3"/>
<circle cx="1075.5" cy="315.8" r="5.45" fill="#fff" stroke="#0000ff" stroke-width="3"/>
<circle cx="1088.0" cy="364.1" r="5.45" fill="#fff" stroke="#0000ff" stroke-width="3"/>
<circle cx="1100.5" cy="374.9" r="5.45" fill="#fff" stroke="#0000ff" stroke-width="3"/>
<circle cx="1113.0" cy="389.9" r="5.45" fill="#fff" stroke="#0000ff" stroke-width="3"/>
<circle cx="1125.5" cy="361.8" r="5.45" fill="#fff" stroke="#0000ff" stroke-width="3"/>
<circle cx="1138.0" cy="380.3" r="5.45" fill="#fff" stroke="#0000ff" stroke-width="3"/>
<circle cx="1150.5" cy="507.9" r="5.45" fill="#fff" stroke="#0000ff" stroke-width="3"/>
<circle cx="1163.0" cy="472.0" r="5.45" fill="#fff" stroke="#0000ff" stroke-width="3"/>
<circle cx="1175.5" cy="339.1" r="5.45" fill="#fff" stroke="#0000ff" stroke-width="3"/>
<circle cx="1188.0" cy="343.9" r="5.45" fill="#fff" stroke="#0000ff" stroke-width="3"/>
<circle cx="1200.5" cy="312.9" r="5.45" fill="#fff" stroke="#0000ff" stroke-width="3"/>
<circle cx="1213.1" cy="364.1" r="5.45" fill="#fff" stroke="#0000ff" stroke-width="3"/>
<circle cx="1225.6" cy="330.5" r="5.45" fill="#fff" stroke="#0000ff" stroke-width="3"/>
<circle cx="1238.1" cy="301.0" r="5.45" fill="#fff" stroke="#0000ff" stroke-width="3"/>
<circle cx="1250.6" cy="377.1" r="5.45" fill="#fff" stroke="#0000ff" stroke-width="3"/>
<circle cx="1263.1" cy="314.6" r="5.45" fill="#fff" stroke="#0000ff" stroke-width="3"/>
<circle cx="1275.6" cy="371.5" r="5.45" fill="#fff" stroke="#0000ff" stroke-width="3"/>
<circle cx="1288.1" cy="427.4" r="5.45" fill="#fff" stroke="#0000ff" stroke-width="3"/>
<circle cx="1300.6" cy="465.5" r="5.45" fill="#fff" stroke="#0000ff" stroke-width="3"/>
<circle cx="1313.1" cy="469.2" r="5.45" fill="#fff" stroke="#0000ff" stroke-width="3"/>
<circle cx="762.7" cy="482.5" r="7.6" fill="url(#sph)"/>
<circle cx="775.2" cy="493.5" r="7.6" fill="url(#sph)"/>
<circle cx="787.7" cy="492.9" r="7.6" fill="url(#sph)"/>
<circle cx="800.2" cy="503.2" r="7.6" fill="url(#sph)"/>
<circle cx="812.7" cy="542.3" r="7.6" fill="url(#sph)"/>
<circle cx="825.2" cy="504.6" r="7.6" fill="url(#sph)"/>
<circle cx="837.8" cy="526.6" r="7.6" fill="url(#sph)"/>
<circle cx="850.3" cy="525.6" r="7.6" fill="url(#sph)"/>
<circle cx="862.8" cy="478.1" r="7.6" fill="url(#sph)"/>
<circle cx="875.3" cy="449.4" r="7.6" fill="url(#sph)"/>
<circle cx="887.8" cy="452.4" r="7.6" fill="url(#sph)"/>
<circle cx="900.3" cy="470.4" r="7.6" fill="url(#sph)"/>
<circle cx="912.8" cy="446.0" r="7.6" fill="url(#sph)"/>
<circle cx="925.3" cy="486.9" r="7.6" fill="url(#sph)"/>
<circle cx="937.8" cy="443.4" r="7.6" fill="url(#sph)"/>
<circle cx="950.4" cy="439.9" r="7.6" fill="url(#sph)"/>
<circle cx="962.9" cy="484.5" r="7.6" fill="url(#sph)"/>
<circle cx="975.4" cy="370.1" r="7.6" fill="url(#sph)"/>
<circle cx="987.9" cy="386.2" r="7.6" fill="url(#sph)"/>
<circle cx="1000.4" cy="423.3" r="7.6" fill="url(#sph)"/>
<circle cx="1012.9" cy="308.7" r="7.6" fill="url(#sph)"/>
<circle cx="1025.4" cy="222.9" r="7.6" fill="url(#sph)"/>
<circle cx="1037.9" cy="167.4" r="7.6" fill="url(#sph)"/>
<circle cx="1050.4" cy="85.6" r="7.6" fill="url(#sph)"/>
<circle cx="1062.9" cy="91.6" r="7.6" fill="url(#sph)"/>
<circle cx="1075.5" cy="98.6" r="7.6" fill="url(#sph)"/>
<circle cx="1088.0" cy="100.5" r="7.6" fill="url(#sph)"/>
<circle cx="1100.5" cy="117.2" r="7.6" fill="url(#sph)"/>
<circle cx="1113.0" cy="120.2" r="7.6" fill="url(#sph)"/>
<circle cx="1125.5" cy="152.8" r="7.6" fill="url(#sph)"/>
<circle cx="1138.0" cy="140.3" r="7.6" fill="url(#sph)"/>
<circle cx="1150.5" cy="184.4" r="7.6" fill="url(#sph)"/>
<circle cx="1163.0" cy="186.4" r="7.6" fill="url(#sph)"/>
<circle cx="1175.5" cy="207.5" r="7.6" fill="url(#sph)"/>
<circle cx="1188.0" cy="189.3" r="7.6" fill="url(#sph)"/>
<circle cx="1200.5" cy="207.2" r="7.6" fill="url(#sph)"/>
<circle cx="1213.1" cy="177.9" r="7.6" fill="url(#sph)"/>
<circle cx="1225.6" cy="197.0" r="7.6" fill="url(#sph)"/>
<circle cx="1238.1" cy="141.3" r="7.6" fill="url(#sph)"/>
<circle cx="1250.6" cy="144.6" r="7.6" fill="url(#sph)"/>
<circle cx="1263.1" cy="154.0" r="7.6" fill="url(#sph)"/>
<circle cx="1275.6" cy="135.1" r="7.6" fill="url(#sph)"/>
<circle cx="1288.1" cy="125.4" r="7.6" fill="url(#sph)"/>
<circle cx="1300.6" cy="114.2" r="7.6" fill="url(#sph)"/>
<circle cx="1313.1" cy="112.7" r="7.6" fill="url(#sph)"/>
<line x1="750" y1="433.3" x2="832.6" y2="433.3" stroke="#ec1c24" stroke-width="3"/>
<path d="M731.3,433.3 Q746,428.5 757.8,418.7 Q752.5,427 752.8,433.3 Q752.5,439.6 757.8,448.1 Q746,438.1 731.3,433.3 Z" fill="#ec1c24"/>
<line x1="1237.2" y1="283.3" x2="1320" y2="283.3" stroke="#0000ff" stroke-width="3"/>
<path d="M1339.8,283.3 Q1325,278.3 1313.3,268.3 Q1318.3,276.5 1318.2,283.3 Q1318.3,290.1 1313.3,297.8 Q1325,288.3 1339.8,283.3 Z" fill="#0000ff"/>
<text transform="translate(627,397.8) rotate(-90)" font-size="37.5" fill="#000"><tspan dy="3.5">s</tspan><tspan font-size="21.5" dy="9">5</tspan><tspan dy="-12.5">/s</tspan><tspan font-size="21.5" dy="9">5</tspan><tspan dy="-9"> (</tspan><tspan font-style="italic">h</tspan>-BN)</text>
<text transform="translate(1481.9,459.2) rotate(-90)" font-size="37.9" fill="#000"><tspan style="font-family:'Liberation Serif',serif">φ</tspan><tspan font-size="16" dy="11">5</tspan><tspan dy="-11">−</tspan><tspan style="font-family:'Liberation Serif',serif">φ</tspan><tspan font-size="16" dy="11">5</tspan><tspan dy="-11">(</tspan><tspan font-style="italic">h</tspan>-BN)<tspan dy="2.8"> (rad)</tspan></text>
<rect x="98.3" y="696.2" width="576.2" height="355.4" fill="none" stroke="#000" stroke-width="1.6"/>
<line x1="91.30" y1="1051.30" x2="98.30" y2="1051.30" stroke="#000" stroke-width="1.6"/>
<text x="85.0" y="1059.3" font-size="31.5" fill="#000" text-anchor="end">1.1</text>
<line x1="91.30" y1="949.87" x2="98.30" y2="949.87" stroke="#000" stroke-width="1.6"/>
<text x="85.0" y="957.9" font-size="31.5" fill="#000" text-anchor="end">1.2</text>
<line x1="91.30" y1="848.44" x2="98.30" y2="848.44" stroke="#000" stroke-width="1.6"/>
<text x="85.0" y="856.4" font-size="31.5" fill="#000" text-anchor="end">1.3</text>
<line x1="91.30" y1="747.01" x2="98.30" y2="747.01" stroke="#000" stroke-width="1.6"/>
<text x="85.0" y="755.0" font-size="31.5" fill="#000" text-anchor="end">1.4</text>
<line x1="94.30" y1="1000.59" x2="98.30" y2="1000.59" stroke="#000" stroke-width="1.6"/>
<line x1="94.30" y1="899.16" x2="98.30" y2="899.16" stroke="#000" stroke-width="1.6"/>
<line x1="94.30" y1="797.73" x2="98.30" y2="797.73" stroke="#000" stroke-width="1.6"/>
<line x1="94.30" y1="696.30" x2="98.30" y2="696.30" stroke="#000" stroke-width="1.6"/>
<line x1="146.80" y1="1051.60" x2="146.80" y2="1059.10" stroke="#000" stroke-width="1.6"/>
<text x="142.3" y="1085.2" font-size="31.5" fill="#000" text-anchor="middle">1.50</text>
<line x1="242.70" y1="1051.60" x2="242.70" y2="1059.10" stroke="#000" stroke-width="1.6"/>
<text x="238.2" y="1085.2" font-size="31.5" fill="#000" text-anchor="middle">1.55</text>
<line x1="338.60" y1="1051.60" x2="338.60" y2="1059.10" stroke="#000" stroke-width="1.6"/>
<text x="334.1" y="1085.2" font-size="31.5" fill="#000" text-anchor="middle">1.60</text>
<line x1="434.50" y1="1051.60" x2="434.50" y2="1059.10" stroke="#000" stroke-width="1.6"/>
<text x="430.0" y="1085.2" font-size="31.5" fill="#000" text-anchor="middle">1.65</text>
<line x1="530.40" y1="1051.60" x2="530.40" y2="1059.10" stroke="#000" stroke-width="1.6"/>
<text x="525.9" y="1085.2" font-size="31.5" fill="#000" text-anchor="middle">1.70</text>
<line x1="626.30" y1="1051.60" x2="626.30" y2="1059.10" stroke="#000" stroke-width="1.6"/>
<text x="621.8" y="1085.2" font-size="31.5" fill="#000" text-anchor="middle">1.75</text>
<line x1="98.85" y1="1051.60" x2="98.85" y2="1055.80" stroke="#000" stroke-width="1.6"/>
<line x1="194.75" y1="1051.60" x2="194.75" y2="1055.80" stroke="#000" stroke-width="1.6"/>
<line x1="290.65" y1="1051.60" x2="290.65" y2="1055.80" stroke="#000" stroke-width="1.6"/>
<line x1="386.55" y1="1051.60" x2="386.55" y2="1055.80" stroke="#000" stroke-width="1.6"/>
<line x1="482.45" y1="1051.60" x2="482.45" y2="1055.80" stroke="#000" stroke-width="1.6"/>
<line x1="578.35" y1="1051.60" x2="578.35" y2="1055.80" stroke="#000" stroke-width="1.6"/>
<line x1="674.25" y1="1051.60" x2="674.25" y2="1055.80" stroke="#000" stroke-width="1.6"/>
<path d="M145.0,819.3 L146.6,819.0 L148.2,818.8 L149.8,818.6 L151.5,818.4 L153.1,818.2 L154.7,818.0 L156.3,817.7 L157.9,817.5 L159.5,817.3 L161.1,817.1 L162.8,816.8 L164.4,816.6 L166.0,816.3 L167.6,816.1 L169.2,815.9 L170.8,815.6 L172.5,815.4 L174.1,815.1 L175.7,814.9 L177.3,814.6 L178.9,814.3 L180.5,814.1 L182.1,813.8 L183.8,813.5 L185.4,813.2 L187.0,813.0 L188.6,812.7 L190.2,812.4 L191.8,812.1 L193.4,811.8 L195.1,811.5 L196.7,811.2 L198.3,810.9 L199.9,810.6 L201.5,810.3 L203.1,810.0 L204.7,809.6 L206.4,809.3 L208.0,809.0 L209.6,808.6 L211.2,808.3 L212.8,807.9 L214.4,807.6 L216.0,807.2 L217.7,806.9 L219.3,806.5 L220.9,806.1 L222.5,805.8 L224.1,805.4 L225.7,805.0 L227.4,804.6 L229.0,804.2 L230.6,803.8 L232.2,803.4 L233.8,803.0 L235.4,802.6 L237.0,802.1 L238.7,801.7 L240.3,801.3 L241.9,800.8 L243.5,800.4 L245.1,799.9 L246.7,799.4 L248.3,799.0 L250.0,798.5 L251.6,798.0 L253.2,797.5 L254.8,797.0 L256.4,796.5 L258.0,795.9 L259.6,795.4 L261.3,794.9 L262.9,794.3 L264.5,793.8 L266.1,793.2 L267.7,792.6 L269.3,792.0 L270.9,791.4 L272.6,790.8 L274.2,790.2 L275.8,789.6 L277.4,789.0 L279.0,788.3 L280.6,787.7 L282.3,787.0 L283.9,786.3 L285.5,785.6 L287.1,784.9 L288.7,784.2 L290.3,783.4 L291.9,782.7 L293.6,781.9 L295.2,781.2 L296.8,780.4 L298.4,779.6 L300.0,778.8 L301.6,777.9 L303.2,777.1 L304.9,776.2 L306.5,775.3 L308.1,774.5 L309.7,773.5 L311.3,772.6 L312.9,771.7 L314.5,770.7 L316.2,769.7 L317.8,768.7 L319.4,767.7 L321.0,766.7 L322.6,765.6 L324.2,764.5 L325.8,763.4 L327.5,762.3 L329.1,761.2 L330.7,760.0 L332.3,758.9 L333.9,757.7 L335.5,756.4 L337.2,755.2 L338.8,753.9 L340.4,752.7 L342.0,751.4 L343.6,750.1 L345.2,748.7 L346.8,747.4 L348.5,746.0 L350.1,744.6 L351.7,743.2 L353.3,741.7 L354.9,740.3 L356.5,738.9 L358.1,737.4 L359.8,735.9 L361.4,734.5 L363.0,733.0 L364.6,731.5 L366.2,730.0 L367.8,728.6 L369.4,727.1 L371.1,725.7 L372.7,724.3 L374.3,723.0 L375.9,721.7 L377.5,720.4 L379.1,719.2 L380.7,718.1 L382.4,717.1 L384.0,716.2 L385.6,715.4 L387.2,714.8 L388.8,714.3 L390.4,714.0 L392.1,713.9 L393.7,714.1 L395.3,714.5 L396.9,715.2 L398.5,716.3 L400.1,717.7 L401.7,719.5 L403.4,721.7 L405.0,724.4 L406.6,727.6 L408.2,731.3 L409.8,735.6 L411.4,740.5 L413.0,745.9 L414.7,752.0 L416.3,758.7 L417.9,765.9 L419.5,773.8 L421.1,782.2 L422.7,791.1 L424.3,800.4 L426.0,810.2 L427.6,820.2 L429.2,830.5 L430.8,840.9 L432.4,851.4 L434.0,861.8 L435.6,872.1 L437.3,882.1 L438.9,891.9 L440.5,901.3 L442.1,910.2 L443.7,918.6 L445.3,926.6 L447.0,933.9 L448.6,940.7 L450.2,947.0 L451.8,952.6 L453.4,957.7 L455.0,962.3 L456.6,966.3 L458.3,969.9 L459.9,973.0 L461.5,975.6 L463.1,977.9 L464.7,979.7 L466.3,981.2 L467.9,982.5 L469.6,983.4 L471.2,984.0 L472.8,984.5 L474.4,984.7 L476.0,984.7 L477.6,984.6 L479.2,984.3 L480.9,983.9 L482.5,983.4 L484.1,982.7 L485.7,982.0 L487.3,981.2 L488.9,980.3 L490.5,979.4 L492.2,978.5 L493.8,977.4 L495.4,976.4 L497.0,975.3 L498.6,974.2 L500.2,973.1 L501.9,972.0 L503.5,970.9 L505.1,969.7 L506.7,968.6 L508.3,967.4 L509.9,966.3 L511.5,965.2 L513.2,964.0 L514.8,962.9 L516.4,961.8 L518.0,960.7 L519.6,959.6 L521.2,958.5 L522.8,957.4 L524.5,956.4 L526.1,955.3 L527.7,954.3 L529.3,953.3 L530.9,952.3 L532.5,951.3 L534.1,950.3 L535.8,949.3 L537.4,948.4 L539.0,947.4 L540.6,946.5 L542.2,945.6 L543.8,944.7 L545.4,943.9 L547.1,943.0 L548.7,942.1 L550.3,941.3 L551.9,940.5 L553.5,939.7 L555.1,938.9 L556.8,938.1 L558.4,937.3 L560.0,936.6 L561.6,935.8 L563.2,935.1 L564.8,934.4 L566.4,933.7 L568.1,933.0 L569.7,932.3 L571.3,931.6 L572.9,931.0 L574.5,930.3 L576.1,929.7 L577.7,929.0 L579.4,928.4 L581.0,927.8 L582.6,927.2 L584.2,926.6 L585.8,926.0 L587.4,925.5 L589.0,924.9 L590.7,924.3 L592.3,923.8 L593.9,923.3 L595.5,922.7 L597.1,922.2 L598.7,921.7 L600.3,921.2 L602.0,920.7 L603.6,920.2 L605.2,919.7 L606.8,919.3 L608.4,918.8 L610.0,918.3 L611.7,917.9 L613.3,917.4 L614.9,917.0 L616.5,916.6 L618.1,916.1 L619.7,915.7 L621.3,915.3 L623.0,914.9 L624.6,914.5 L626.2,914.1 L627.8,913.7" fill="none" stroke="#e31e24" stroke-width="3"/>
<circle cx="176.7" cy="825.0" r="5.8" fill="url(#sph)"/>
<circle cx="212.6" cy="819.8" r="5.8" fill="url(#sph)"/>
<circle cx="249.4" cy="742.5" r="5.8" fill="url(#sph)"/>
<circle cx="268.0" cy="857.5" r="5.8" fill="url(#sph)"/>
<circle cx="287.1" cy="769.8" r="5.8" fill="url(#sph)"/>
<circle cx="306.4" cy="785.5" r="5.8" fill="url(#sph)"/>
<circle cx="326.0" cy="715.0" r="5.8" fill="url(#sph)"/>
<circle cx="345.7" cy="718.1" r="5.8" fill="url(#sph)"/>
<circle cx="365.8" cy="739.7" r="5.8" fill="url(#sph)"/>
<circle cx="386.0" cy="757.0" r="5.8" fill="url(#sph)"/>
<circle cx="406.5" cy="793.5" r="5.8" fill="url(#sph)"/>
<circle cx="427.2" cy="881.8" r="5.8" fill="url(#sph)"/>
<circle cx="448.5" cy="972.3" r="5.8" fill="url(#sph)"/>
<circle cx="469.8" cy="902.2" r="5.8" fill="url(#sph)"/>
<circle cx="491.4" cy="950.7" r="5.8" fill="url(#sph)"/>
<circle cx="513.2" cy="925.4" r="5.8" fill="url(#sph)"/>
<circle cx="535.6" cy="904.1" r="5.8" fill="url(#sph)"/>
<circle cx="558.0" cy="931.5" r="5.8" fill="url(#sph)"/>
<circle cx="580.6" cy="939.8" r="5.8" fill="url(#sph)"/>
<rect x="515.4" y="715.4" width="122.2" height="33.9" rx="5.5" fill="#fff" stroke="#c8c8ca" stroke-width="3"/>
<text x="522.2" y="737.2" font-size="27.9" fill="#231f20">3L WSe<tspan font-size="17.5" dy="6">2</tspan></text>
<text x="356.5" y="1119.5" font-size="38" fill="#000" font-family="Liberation Serif, serif" style="font-family:'Liberation Serif',serif">ω</text>
<text x="390.5" y="1118.0" font-size="37" fill="#000">(eV)</text>
<text transform="translate(31.3,966.2) rotate(-90)" font-size="37.5" fill="#000"><tspan dy="3.7">s</tspan><tspan font-size="21" dy="8.5">5</tspan><tspan dy="-12.2">/s</tspan><tspan font-size="21" dy="8.5">5</tspan><tspan dy="-8.5"> (</tspan><tspan font-style="italic">h</tspan>-BN)</text>
<rect x="847.5" y="696.2" width="576.1" height="355.7" fill="none" stroke="#000" stroke-width="1.6"/>
<line x1="840.50" y1="997.30" x2="847.50" y2="997.30" stroke="#000" stroke-width="1.6"/>
<text x="836.5" y="1008.6" font-size="31.5" fill="#000" text-anchor="end">0.00</text>
<line x1="840.50" y1="928.80" x2="847.50" y2="928.80" stroke="#000" stroke-width="1.6"/>
<text x="836.5" y="940.1" font-size="31.5" fill="#000" text-anchor="end">0.05</text>
<line x1="840.50" y1="860.30" x2="847.50" y2="860.30" stroke="#000" stroke-width="1.6"/>
<text x="836.5" y="871.6" font-size="31.5" fill="#000" text-anchor="end">0.10</text>
<line x1="840.50" y1="791.80" x2="847.50" y2="791.80" stroke="#000" stroke-width="1.6"/>
<text x="836.5" y="803.1" font-size="31.5" fill="#000" text-anchor="end">0.15</text>
<line x1="840.50" y1="723.30" x2="847.50" y2="723.30" stroke="#000" stroke-width="1.6"/>
<text x="836.5" y="734.6" font-size="31.5" fill="#000" text-anchor="end">0.20</text>
<line x1="843.50" y1="1031.55" x2="847.50" y2="1031.55" stroke="#000" stroke-width="1.6"/>
<line x1="843.50" y1="963.05" x2="847.50" y2="963.05" stroke="#000" stroke-width="1.6"/>
<line x1="843.50" y1="894.55" x2="847.50" y2="894.55" stroke="#000" stroke-width="1.6"/>
<line x1="843.50" y1="826.05" x2="847.50" y2="826.05" stroke="#000" stroke-width="1.6"/>
<line x1="843.50" y1="757.55" x2="847.50" y2="757.55" stroke="#000" stroke-width="1.6"/>
<line x1="895.30" y1="1051.90" x2="895.30" y2="1059.40" stroke="#000" stroke-width="1.6"/>
<text x="890.8" y="1085.2" font-size="31.5" fill="#000" text-anchor="middle">1.50</text>
<line x1="991.40" y1="1051.90" x2="991.40" y2="1059.40" stroke="#000" stroke-width="1.6"/>
<text x="986.9" y="1085.2" font-size="31.5" fill="#000" text-anchor="middle">1.55</text>
<line x1="1087.50" y1="1051.90" x2="1087.50" y2="1059.40" stroke="#000" stroke-width="1.6"/>
<text x="1083.0" y="1085.2" font-size="31.5" fill="#000" text-anchor="middle">1.60</text>
<line x1="1183.60" y1="1051.90" x2="1183.60" y2="1059.40" stroke="#000" stroke-width="1.6"/>
<text x="1179.1" y="1085.2" font-size="31.5" fill="#000" text-anchor="middle">1.65</text>
<line x1="1279.70" y1="1051.90" x2="1279.70" y2="1059.40" stroke="#000" stroke-width="1.6"/>
<text x="1275.2" y="1085.2" font-size="31.5" fill="#000" text-anchor="middle">1.70</text>
<line x1="1375.80" y1="1051.90" x2="1375.80" y2="1059.40" stroke="#000" stroke-width="1.6"/>
<text x="1371.3" y="1085.2" font-size="31.5" fill="#000" text-anchor="middle">1.75</text>
<line x1="847.25" y1="1051.90" x2="847.25" y2="1056.10" stroke="#000" stroke-width="1.6"/>
<line x1="943.35" y1="1051.90" x2="943.35" y2="1056.10" stroke="#000" stroke-width="1.6"/>
<line x1="1039.45" y1="1051.90" x2="1039.45" y2="1056.10" stroke="#000" stroke-width="1.6"/>
<line x1="1135.55" y1="1051.90" x2="1135.55" y2="1056.10" stroke="#000" stroke-width="1.6"/>
<line x1="1231.65" y1="1051.90" x2="1231.65" y2="1056.10" stroke="#000" stroke-width="1.6"/>
<line x1="1327.75" y1="1051.90" x2="1327.75" y2="1056.10" stroke="#000" stroke-width="1.6"/>
<line x1="1423.85" y1="1051.90" x2="1423.85" y2="1056.10" stroke="#000" stroke-width="1.6"/>
<path d="M894.3,991.6 L895.5,991.6 L896.7,991.6 L897.9,991.6 L899.1,991.5 L900.3,991.5 L901.5,991.5 L902.8,991.5 L904.0,991.4 L905.2,991.4 L906.4,991.4 L907.6,991.4 L908.8,991.4 L910.0,991.3 L911.2,991.3 L912.4,991.3 L913.6,991.2 L914.8,991.2 L916.0,991.2 L917.3,991.2 L918.5,991.1 L919.7,991.1 L920.9,991.1 L922.1,991.0 L923.3,991.0 L924.5,991.0 L925.7,990.9 L926.9,990.9 L928.1,990.8 L929.3,990.8 L930.5,990.8 L931.8,990.7 L933.0,990.7 L934.2,990.6 L935.4,990.6 L936.6,990.6 L937.8,990.5 L939.0,990.5 L940.2,990.4 L941.4,990.4 L942.6,990.3 L943.8,990.3 L945.0,990.2 L946.3,990.2 L947.5,990.1 L948.7,990.1 L949.9,990.0 L951.1,989.9 L952.3,989.9 L953.5,989.8 L954.7,989.8 L955.9,989.7 L957.1,989.6 L958.3,989.6 L959.5,989.5 L960.8,989.4 L962.0,989.3 L963.2,989.3 L964.4,989.2 L965.6,989.1 L966.8,989.0 L968.0,989.0 L969.2,988.9 L970.4,988.8 L971.6,988.7 L972.8,988.6 L974.0,988.5 L975.3,988.4 L976.5,988.3 L977.7,988.2 L978.9,988.1 L980.1,988.0 L981.3,987.9 L982.5,987.8 L983.7,987.7 L984.9,987.6 L986.1,987.5 L987.3,987.4 L988.5,987.3 L989.8,987.1 L991.0,987.0 L992.2,986.9 L993.4,986.8 L994.6,986.6 L995.8,986.5 L997.0,986.3 L998.2,986.2 L999.4,986.0 L1000.6,985.9 L1001.8,985.7 L1003.0,985.6 L1004.3,985.4 L1005.5,985.3 L1006.7,985.1 L1007.9,984.9 L1009.1,984.7 L1010.3,984.5 L1011.5,984.4 L1012.7,984.2 L1013.9,984.0 L1015.1,983.8 L1016.3,983.6 L1017.5,983.3 L1018.8,983.1 L1020.0,982.9 L1021.2,982.7 L1022.4,982.4 L1023.6,982.2 L1024.8,981.9 L1026.0,981.7 L1027.2,981.4 L1028.4,981.2 L1029.6,980.9 L1030.8,980.6 L1032.0,980.3 L1033.3,980.0 L1034.5,979.7 L1035.7,979.4 L1036.9,979.1 L1038.1,978.7 L1039.3,978.4 L1040.5,978.1 L1041.7,977.7 L1042.9,977.3 L1044.1,977.0 L1045.3,976.6 L1046.5,976.2 L1047.8,975.8 L1049.0,975.3 L1050.2,974.9 L1051.4,974.5 L1052.6,974.0 L1053.8,973.5 L1055.0,973.0 L1056.2,972.5 L1057.4,972.0 L1058.6,971.5 L1059.8,970.9 L1061.0,970.4 L1062.2,969.8 L1063.5,969.2 L1064.7,968.6 L1065.9,968.0 L1067.1,967.3 L1068.3,966.7 L1069.5,966.0 L1070.7,965.3 L1071.9,964.5 L1073.1,963.8 L1074.3,963.0 L1075.5,962.2 L1076.7,961.4 L1078.0,960.5 L1079.2,959.6 L1080.4,958.7 L1081.6,957.8 L1082.8,956.8 L1084.0,955.8 L1085.2,954.8 L1086.4,953.7 L1087.6,952.6 L1088.8,951.5 L1090.0,950.3 L1091.2,949.1 L1092.5,947.9 L1093.7,946.6 L1094.9,945.3 L1096.1,943.9 L1097.3,942.5 L1098.5,941.0 L1099.7,939.5 L1100.9,937.9 L1102.1,936.3 L1103.3,934.6 L1104.5,932.9 L1105.7,931.1 L1107.0,929.2 L1108.2,927.3 L1109.4,925.4 L1110.6,923.3 L1111.8,921.2 L1113.0,919.0 L1114.2,916.8 L1115.4,914.4 L1116.6,912.0 L1117.8,909.5 L1119.0,907.0 L1120.2,904.3 L1121.5,901.6 L1122.7,898.8 L1123.9,895.8 L1125.1,892.8 L1126.3,889.7 L1127.5,886.5 L1128.7,883.2 L1129.9,879.9 L1131.1,876.4 L1132.3,872.8 L1133.5,869.1 L1134.7,865.3 L1136.0,861.5 L1137.2,857.5 L1138.4,853.4 L1139.6,849.2 L1140.8,845.0 L1142.0,840.6 L1143.2,836.2 L1144.4,831.7 L1145.6,827.1 L1146.8,822.5 L1148.0,817.8 L1149.2,813.0 L1150.5,808.2 L1151.7,803.4 L1152.9,798.6 L1154.1,793.8 L1155.3,788.9 L1156.5,784.2 L1157.7,779.4 L1158.9,774.7 L1160.1,770.1 L1161.3,765.6 L1162.5,761.2 L1163.7,756.9 L1165.0,752.9 L1166.2,748.9 L1167.4,745.2 L1168.6,741.7 L1169.8,738.5 L1171.0,735.5 L1172.2,732.8 L1173.4,730.4 L1174.6,728.3 L1175.8,726.5 L1177.0,725.1 L1178.2,724.0 L1179.5,723.3 L1180.7,722.9 L1181.9,722.9 L1183.1,723.2 L1184.3,723.9 L1185.5,724.9 L1186.7,726.3 L1187.9,728.0 L1189.1,730.0 L1190.3,732.3 L1191.5,735.0 L1192.7,737.8 L1194.0,741.0 L1195.2,744.3 L1196.4,747.9 L1197.6,751.7 L1198.8,755.6 L1200.0,759.7 L1201.2,763.9 L1202.4,768.3 L1203.6,772.7 L1204.8,777.2 L1206.0,781.8 L1207.2,786.4 L1208.5,791.0 L1209.7,795.6 L1210.9,800.3 L1212.1,804.9 L1213.3,809.5 L1214.5,814.1 L1215.7,818.6 L1216.9,823.1 L1218.1,827.5 L1219.3,831.8 L1220.5,836.1 L1221.7,840.3 L1222.9,844.4 L1224.2,848.4 L1225.4,852.4 L1226.6,856.3 L1227.8,860.0 L1229.0,863.7 L1230.2,867.3 L1231.4,870.8 L1232.6,874.2 L1233.8,877.6 L1235.0,880.8 L1236.2,883.9 L1237.4,887.0 L1238.7,890.0 L1239.9,892.9 L1241.1,895.7 L1242.3,898.4 L1243.5,901.0 L1244.7,903.6 L1245.9,906.1 L1247.1,908.5 L1248.3,910.9 L1249.5,913.2 L1250.7,915.4 L1251.9,917.5 L1253.2,919.6 L1254.4,921.6 L1255.6,923.6 L1256.8,925.5 L1258.0,927.3 L1259.2,929.1 L1260.4,930.8 L1261.6,932.5 L1262.8,934.1 L1264.0,935.7 L1265.2,937.2 L1266.4,938.7 L1267.7,940.2 L1268.9,941.6 L1270.1,942.9 L1271.3,944.2 L1272.5,945.5 L1273.7,946.8 L1274.9,948.0 L1276.1,949.2 L1277.3,950.3 L1278.5,951.4 L1279.7,952.5 L1280.9,953.5 L1282.2,954.6 L1283.4,955.5 L1284.6,956.5 L1285.8,957.4 L1287.0,958.4 L1288.2,959.2 L1289.4,960.1 L1290.6,960.9 L1291.8,961.8 L1293.0,962.5 L1294.2,963.3 L1295.4,964.1 L1296.7,964.8 L1297.9,965.5 L1299.1,966.2 L1300.3,966.9 L1301.5,967.6 L1302.7,968.2 L1303.9,968.8 L1305.1,969.4 L1306.3,970.0 L1307.5,970.6 L1308.7,971.2 L1309.9,971.7 L1311.2,972.3 L1312.4,972.8 L1313.6,973.3 L1314.8,973.8 L1316.0,974.3 L1317.2,974.8 L1318.4,975.3 L1319.6,975.7 L1320.8,976.2 L1322.0,976.6 L1323.2,977.0 L1324.4,977.5 L1325.7,977.9 L1326.9,978.3 L1328.1,978.7 L1329.3,979.0 L1330.5,979.4 L1331.7,979.8 L1332.9,980.1 L1334.1,980.5 L1335.3,980.8 L1336.5,981.2 L1337.7,981.5 L1338.9,981.8 L1340.2,982.1 L1341.4,982.5 L1342.6,982.8 L1343.8,983.1 L1345.0,983.3 L1346.2,983.6 L1347.4,983.9 L1348.6,984.2 L1349.8,984.5 L1351.0,984.7 L1352.2,985.0 L1353.4,985.2 L1354.7,985.5 L1355.9,985.7 L1357.1,986.0 L1358.3,986.2 L1359.5,986.4 L1360.7,986.7 L1361.9,986.9 L1363.1,987.1 L1364.3,987.3 L1365.5,987.5 L1366.7,987.7 L1367.9,987.9 L1369.2,988.1 L1370.4,988.3 L1371.6,988.5 L1372.8,988.7 L1374.0,988.9 L1375.2,989.1 L1376.4,989.3" fill="none" stroke="#0000ff" stroke-width="3"/>
<line x1="1166.7" y1="715.7" x2="1165.1" y2="1049" stroke="#0000ff" stroke-width="2.3"/>
<line x1="1202.4" y1="718.9" x2="1200.8" y2="1051" stroke="#0000ff" stroke-width="2.4" stroke-dasharray="11.2 7.2" stroke-dashoffset="4.5"/>
<circle cx="998.5" cy="956.4" r="5.2" fill="none" stroke="#0000ff" stroke-width="2.9"/>
<circle cx="1036.3" cy="1007.4" r="5.2" fill="none" stroke="#0000ff" stroke-width="2.9"/>
<circle cx="1055.5" cy="1010.6" r="5.2" fill="none" stroke="#0000ff" stroke-width="2.9"/>
<circle cx="1075.1" cy="997.8" r="5.2" fill="none" stroke="#0000ff" stroke-width="2.9"/>
<circle cx="1094.6" cy="931.6" r="5.2" fill="none" stroke="#0000ff" stroke-width="2.9"/>
<circle cx="1114.8" cy="911.5" r="5.2" fill="none" stroke="#0000ff" stroke-width="2.9"/>
<circle cx="1135.1" cy="932.4" r="5.2" fill="none" stroke="#0000ff" stroke-width="2.9"/>
<circle cx="1155.2" cy="831.8" r="5.2" fill="none" stroke="#0000ff" stroke-width="2.9"/>
<circle cx="1198.0" cy="736.8" r="5.2" fill="none" stroke="#0000ff" stroke-width="2.9"/>
<circle cx="1219.1" cy="795.0" r="5.2" fill="none" stroke="#0000ff" stroke-width="2.9"/>
<circle cx="1240.8" cy="853.2" r="5.2" fill="none" stroke="#0000ff" stroke-width="2.9"/>
<circle cx="1262.5" cy="881.6" r="5.2" fill="none" stroke="#0000ff" stroke-width="2.9"/>
<circle cx="1284.9" cy="916.8" r="5.2" fill="none" stroke="#0000ff" stroke-width="2.9"/>
<circle cx="1307.0" cy="916.8" r="5.2" fill="none" stroke="#0000ff" stroke-width="2.9"/>
<circle cx="1330.0" cy="955.1" r="5.2" fill="none" stroke="#0000ff" stroke-width="2.9"/>
<line x1="1103.9" y1="770.2" x2="1187" y2="770.2" stroke="#231f20" stroke-width="2"/>
<path d="M1200.9,770.2 Q1191,763.5 1182.1,759.1 Q1186,765 1185.7,770.2 Q1186,775.4 1182.1,781.3 Q1191,776.9 1200.9,770.2 Z" fill="#231f20"/>
<line x1="1085.8" y1="861.3" x2="1152" y2="861.3" stroke="#231f20" stroke-width="2"/>
<path d="M1166,861.3 Q1156.2,854.6 1147.3,850.5 Q1151.2,856.1 1150.9,861.3 Q1151.2,866.5 1147.3,872.2 Q1156.2,868 1166,861.3 Z" fill="#231f20"/>
<text x="870.5" y="777.7" font-size="31" fill="#000">exciton energy</text>
<text x="870.5" y="815.4" font-size="31" fill="#000">in 1L</text>
<text x="861.1" y="867.6" font-size="31" fill="#000">exciton energy</text>
<text x="861.1" y="905.3" font-size="31" fill="#000">in 3L</text>
<rect x="1294.6" y="715.4" width="121.7" height="33.6" rx="5.5" fill="#fff" stroke="#c8c8ca" stroke-width="3"/>
<text x="1301.4" y="737.2" font-size="27.9" fill="#231f20">3L WSe<tspan font-size="17.5" dy="6">2</tspan></text>
<text x="1105" y="1119.5" font-size="38" fill="#000" style="font-family:'Liberation Serif',serif">ω</text>
<text x="1139.0" y="1118.0" font-size="37" fill="#000">(eV)</text>
<text transform="translate(749.8,1007.0) rotate(-90)" font-size="37.9" fill="#000"><tspan style="font-family:'Liberation Serif',serif">φ</tspan><tspan font-size="16.5" dy="11">5</tspan><tspan dy="-11">−</tspan><tspan style="font-family:'Liberation Serif',serif">φ</tspan><tspan font-size="16.5" dy="11">5</tspan><tspan dy="-11">(</tspan><tspan font-style="italic">h</tspan>-BN) (rad)</text>
</svg></body></html>
